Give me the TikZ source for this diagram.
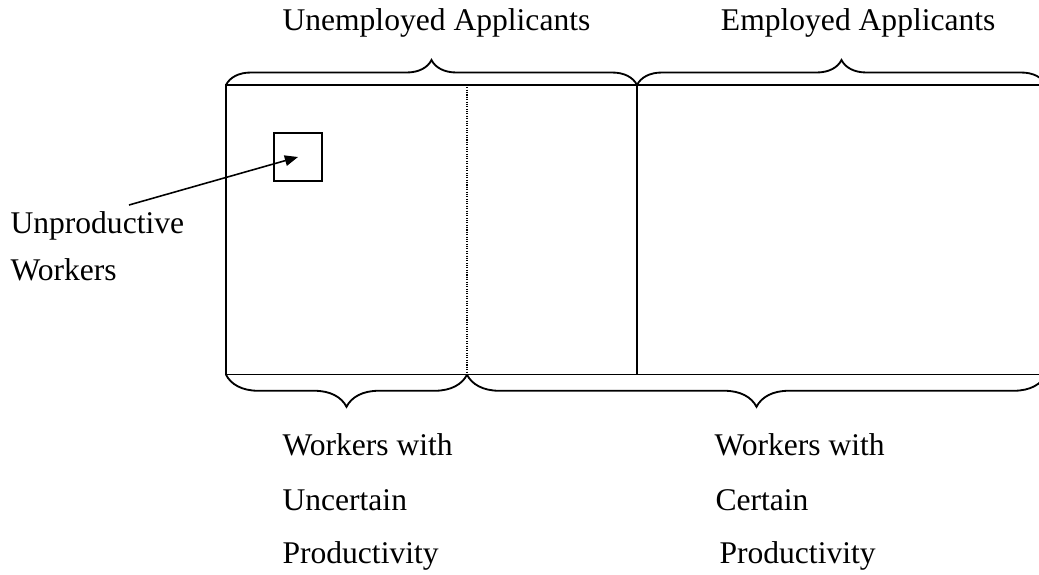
\documentclass[tikz,border=0pt]{standalone}
\usepackage{fontspec}
\setmainfont{Liberation Serif}
\usetikzlibrary{arrows.meta,decorations.pathreplacing}

\begin{document}
\begin{tikzpicture}[x=0.38pt, y=-0.38pt, font=\fontsize{12}{14}\selectfont]
    \tikzset{label/.style = {inner sep=0pt, anchor=base west}}
    \tikzset{frame/.style = {draw, line width=0.5pt}}
    \tikzset{topbrace/.style = {draw, line width=0.7pt, decorate, decoration={brace, amplitude=9.5pt}}}
    \tikzset{lowbrace/.style = {draw, line width=0.7pt, decorate, decoration={brace, mirror, amplitude=12.2pt}}}

    \useasboundingbox (0,0) rectangle (1039,574);
    \clip (0,0) rectangle (1039,574);

    % corners
    \coordinate (tl) at (226,85);
    \coordinate (tr) at (1046,85);
    \coordinate (bl) at (226,374.7);
    \coordinate (br) at (1046,374.7);
    \coordinate (dt) at (467,85);
    \coordinate (db) at (467,374.7);
    \coordinate (st) at (637,85);
    \coordinate (sb) at (637,374.7);
    \coordinate (tail) at (129,205);

    % boxes
    \draw[frame] (tl) rectangle (br);
    \draw[frame] (st) -- (sb);
    \draw[line width=0.4pt, dash pattern=on 0.4pt off 0.5pt] (dt) -- (db);
    \node[frame, minimum size=48*0.38pt, inner sep=0pt] (unprod) at (298,157) {};

    % braces
    \draw[topbrace] (tl) -- (st);
    \draw[topbrace] (st) -- (tr);
    \draw[lowbrace] (bl) -- (db);
    \draw[lowbrace] (db) -- (br);

    % labels
    \node[label] (unemp) at (282,30) {Unemployed Applicants};
    \node[label, anchor=base east] (emp) at (996,30) {Employed Applicants};
    \node[label] (up1) at (10,233) {Unproductive};
    \node[label] (up2) at (10,280) {Workers};
    \node[label] (unc1) at (282,455) {Workers with};
    \node[label] (unc2) at (282,510) {Uncertain};
    \node[label] (unc3) at (282,563) {Productivity};
    \node[label] (cer1) at (714,455) {Workers with};
    \node[label] (cer2) at (715,510) {Certain};
    \node[label] (cer3) at (719,563) {Productivity};

    % arrow
    \draw[line width=0.6pt, -{Triangle[length=5pt, width=4pt]}] (tail) -- (unprod.center);
\end{tikzpicture}
\end{document}
